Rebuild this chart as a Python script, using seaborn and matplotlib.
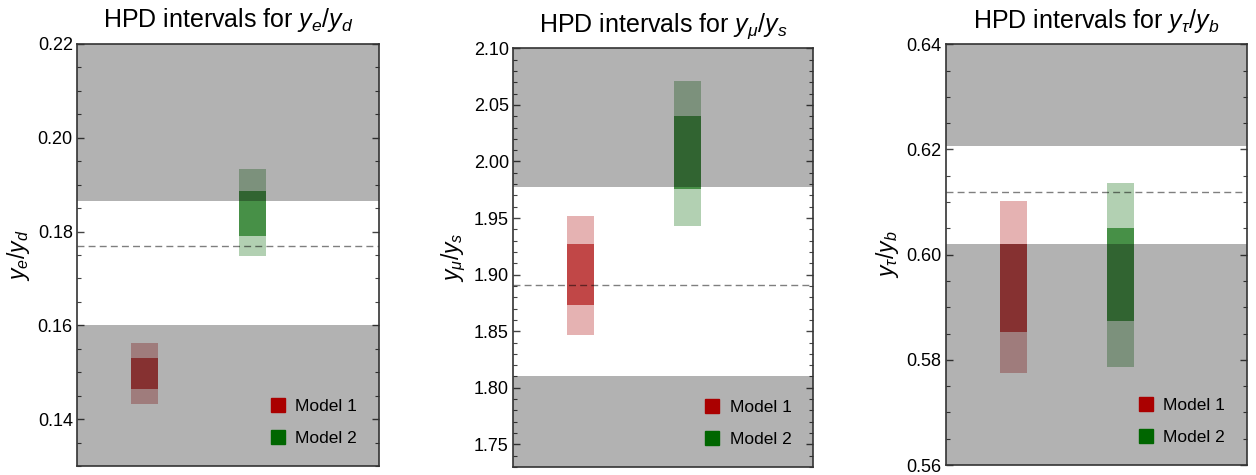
import numpy as np
import matplotlib
matplotlib.use("Agg")
import matplotlib.pyplot as plt
from matplotlib.ticker import MultipleLocator, FormatStrFormatter
from matplotlib.lines import Line2D
import seaborn as sns

# ---------------- data ----------------
models = ["Model 1", "Model 2"]
titles = ["HPD intervals for $y_e/y_d$", "HPD intervals for $y_\\mu/y_s$", "HPD intervals for $y_\\tau/y_b$"]
ylabels = ["$y_e/y_d$", "$y_\\mu/y_s$", "$y_\\tau/y_b$"]

# outer (light) HPD intervals: [model1, model2]
outer_lo = [[0.1432, 0.1747], [1.8467, 1.9426], [0.5775, 0.5786]]
outer_hi = [[0.1562, 0.1934], [1.9520, 2.0712], [0.6102, 0.6136]]
# inner (dark) HPD intervals
inner_lo = [[0.14645, 0.1791], [1.8730, 1.9757], [0.5853, 0.5874]]
inner_hi = [[0.1530, 0.1887], [1.9267, 2.0403], [0.6020, 0.6051]]

# allowed (experimental) band and central value
band_lo = [0.1600, 1.810, 0.6020]
band_hi = [0.1866, 1.977, 0.6207]
central = [0.1769, 1.891, 0.6119]

ylims = [(0.13, 0.22), (1.73, 2.10), (0.56, 0.64)]
major_step = [0.02, 0.05, 0.02]
minor_step = [0.005, 0.01, 0.005]

model_colors = [(0.667, 0.0, 0.0), (0.0, 0.4, 0.0)]

# ---------------- style ----------------
sns.set_style("ticks")
plt.rcParams["font.family"] = ["Liberation Sans", "DejaVu Sans"]
plt.rcParams["mathtext.fontset"] = "custom"
plt.rcParams["mathtext.it"] = "Liberation Sans:italic"
plt.rcParams["mathtext.rm"] = "Liberation Sans"
plt.rcParams["mathtext.bf"] = "Liberation Sans:bold"
plt.rcParams["text.color"] = "black"
plt.rcParams["axes.labelcolor"] = "black"
plt.rcParams["ytick.labelcolor"] = "black"

fig = plt.figure(figsize=(12.56, 4.75), dpi=100)
W, H = 1256, 475
boxes = [(77, 379, 44, 466), (513, 813, 48.3, 467), (945.7, 1247, 44.3, 465)]

xpos = [1, 2]
bw = 0.25

for i in range(3):
    l, r, t, b = boxes[i]
    ax = fig.add_axes([l / W, (H - b) / H, (r - l) / W, (b - t) / H])
    ax.set_facecolor("white")
    for j, m in enumerate(models):
        c = model_colors[j]
        ax.bar(xpos[j], outer_hi[i][j] - outer_lo[i][j], bottom=outer_lo[i][j],
               width=bw, color=c, alpha=0.3, linewidth=0, zorder=2)
        ax.bar(xpos[j], inner_hi[i][j] - inner_lo[i][j], bottom=inner_lo[i][j],
               width=bw, color=c, alpha=0.6, linewidth=0, zorder=3)
    y0, y1 = ylims[i]
    ax.axhspan(y0, band_lo[i], color="black", alpha=0.3, linewidth=0, zorder=4)
    ax.axhspan(band_hi[i], y1, color="black", alpha=0.3, linewidth=0, zorder=4)
    ax.axhline(central[i], color="black", alpha=0.5, lw=1.0, ls=(0, (5, 3)), zorder=5)

    ax.set_xlim(0.375, 3.17)
    ax.set_ylim(y0, y1)
    ax.set_xticks([])
    ax.yaxis.set_major_locator(MultipleLocator(major_step[i]))
    ax.yaxis.set_minor_locator(MultipleLocator(minor_step[i]))
    ax.yaxis.set_major_formatter(FormatStrFormatter("%.2f"))
    ax.tick_params(axis="y", which="both", direction="in", left=True, right=True,
                   color="#444444", labelcolor="black", labelsize=13, pad=3)
    ax.tick_params(axis="y", which="major", length=5, width=1)
    ax.tick_params(axis="y", which="minor", length=3, width=0.8)
    for sp in ax.spines.values():
        sp.set_color("#333333")
        sp.set_linewidth(1.2)
        sp.set_zorder(10)
    ax.set_title(titles[i], fontsize=18, pad=12, color="black")
    ax.set_ylabel(ylabels[i], fontsize=16.5, labelpad=4, color="black")

    handles = [Line2D([], [], marker="s", ls="", markersize=10.5, color=model_colors[k]) for k in range(2)]
    leg = ax.legend(handles, models, loc="lower right", frameon=False, fontsize=12.5,
                    handlelength=0.8, handletextpad=0.6, labelspacing=1.0,
                    bbox_to_anchor=(0.98, 0.01))
    for txt in leg.get_texts():
        txt.set_color("black")
    leg.set_zorder(12)

fig.savefig("out.png", dpi=100)
